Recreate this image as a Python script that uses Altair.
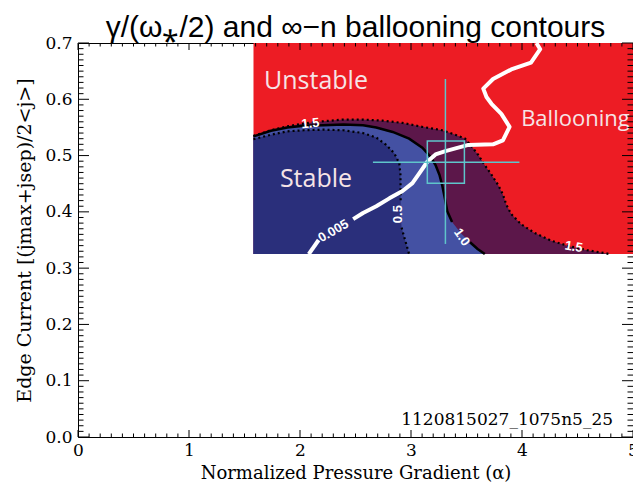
import altair as alt
import pandas as pd

# ---------------- data ----------------
# extent of the computed contour map
region_x = [1.581, 5.0]
region_y = [0.325, 0.7]

# gamma/(w*/2) = 1.5 contour (red / purple boundary)
c15_x = [1.581, 1.738, 1.886, 2.035, 2.212, 2.390, 2.568, 2.746, 2.924, 3.102, 3.280, 3.399,
         3.488, 3.547, 3.606, 3.665, 3.725, 3.784, 3.828, 3.858, 3.903, 3.992, 4.110, 4.259,
         4.407, 4.585, 4.793]
c15_y = [0.535, 0.545, 0.552, 0.557, 0.561, 0.564, 0.564, 0.562, 0.558, 0.551, 0.545, 0.537,
         0.530, 0.516, 0.501, 0.483, 0.466, 0.448, 0.431, 0.413, 0.396, 0.378, 0.363, 0.349,
         0.340, 0.332, 0.325]

# 1.0 contour (purple / light blue boundary, solid)
c10_x = [1.581, 1.738, 1.886, 2.035, 2.212, 2.390, 2.568, 2.687, 2.835, 2.983, 3.102, 3.176,
         3.221, 3.256, 3.280, 3.304, 3.327, 3.370, 3.450, 3.532, 3.600, 3.665]
c10_y = [0.534, 0.544, 0.550, 0.553, 0.554, 0.555, 0.554, 0.550, 0.542, 0.530, 0.514, 0.498,
         0.483, 0.466, 0.448, 0.425, 0.401, 0.382, 0.362, 0.346, 0.334, 0.325]
c10_gap = [18]

# 0.5 contour (light blue / stable boundary, dotted)
c05_x = [1.581, 1.738, 1.886, 2.035, 2.212, 2.390, 2.568, 2.687, 2.776, 2.850, 2.895, 2.905,
         2.906, 2.907, 2.908, 2.915, 2.948, 2.983]
c05_y = [0.529, 0.537, 0.543, 0.545, 0.546, 0.545, 0.540, 0.532, 0.519, 0.504, 0.486, 0.466,
         0.442, 0.419, 0.396, 0.372, 0.349, 0.325]
c05_gap = [14]

# infinite-n ballooning boundary (white)
bal_x = [2.079, 2.168, 2.479, 2.568, 2.687, 2.805, 2.924, 3.013, 3.087, 3.147, 3.221, 3.310,
         3.517, 3.739, 3.828, 3.888, 3.814, 3.725, 3.680, 3.651, 3.739, 3.903, 4.081, 4.164,
         4.130]
bal_y = [0.325, 0.350, 0.387, 0.398, 0.410, 0.424, 0.437, 0.451, 0.472, 0.489, 0.502, 0.508,
         0.519, 0.520, 0.527, 0.551, 0.574, 0.592, 0.604, 0.619, 0.636, 0.653, 0.665, 0.689,
         0.700]
bal_break = 2  # gap for the "0.005" label

# experimental point with error bars
pt_x, pt_y = 3.310, 0.488
pt_xerr = [2.657, 3.977]
pt_yerr = [0.343, 0.636]
box_x = [3.147, 3.481]
box_y = [0.451, 0.526]

# labels
contour_labels = ["1.5", "1.5", "0.005", "0.5", "1.0"]
contour_lx = [2.094, 4.466, 2.301, 2.880, 3.458]
contour_ly = [0.557, 0.338, 0.366, 0.396, 0.355]
contour_angle = [355, 10, 330, 270, 55]

region_labels = ["Unstable", "Stable", "Ballooning"]
region_lx = [2.144, 2.144, 4.481]
region_ly = [0.632, 0.459, 0.565]
region_size = [25, 25, 22]

shot_label = "1120815027_1075n5_25"
shot_x, shot_y = 3.866, 0.031

x_ticks = [0, 1, 2, 3, 4, 5]
y_ticks = [0.0, 0.1, 0.2, 0.3, 0.4, 0.5, 0.6, 0.7]
x_minor = [i / 10 for i in range(51) if i % 10]
y_minor = [i / 100 for i in range(71) if i % 10]

# ---------------- styling ----------------
W, H = 555, 394
RED, PURPLE, LBLUE, NAVY = "#ed1c24", "#5c174a", "#4451a3", "#2a2f7b"
CYAN = "#5fc5cb"
SERIF = "DejaVu Serif"

XS = alt.Scale(domain=[0, 5], nice=False, zero=False)
YS = alt.Scale(domain=[0, 0.7], nice=False, zero=False)
XA = alt.Axis(values=x_ticks, format="d", ticks=False, domain=False, grid=False,
              labelFont=SERIF, labelFontSize=17, labelColor="black", labelPadding=5,
              labelFlush=False, labelOverlap=False,
              title="Normalized Pressure Gradient (α)", titleFont=SERIF, titleFontSize=18,
              titleFontWeight="normal", titleColor="black", titlePadding=6)
YA = alt.Axis(values=y_ticks, format=".1f", ticks=False, domain=False, grid=False,
              labelFont=SERIF, labelFontSize=17, labelColor="black", labelPadding=6,
              labelOverlap=False,
              title="Edge Current [(jmax+jsep)/2<j>]", titleFont=SERIF, titleFontSize=19,
              titleFontWeight="normal", titleColor="black", titlePadding=10)


def X(f):
    return alt.X(f, type="quantitative", scale=XS, axis=XA)


def Y(f):
    return alt.Y(f, type="quantitative", scale=YS, axis=YA)


def area_df(xs, ys):
    return pd.DataFrame({"x": xs, "y": ys, "base": region_y[0]})


def line_df(xs, ys, gaps=(), brk=None):
    rows = []
    seg = 0
    for i, (a, b) in enumerate(zip(xs, ys)):
        if i in gaps:
            seg += 1
            continue
        if brk is not None and i == brk:
            seg += 1
        rows.append({"x": a, "y": b, "o": i, "seg": seg})
    return pd.DataFrame(rows)


layers = []

# background (unstable) region
layers.append(alt.Chart(pd.DataFrame({"x": [region_x[0]], "x2": [region_x[1]],
                                      "y": [region_y[0]], "y2": [region_y[1]]}))
              .mark_rect(color=RED).encode(x=X("x"), x2="x2", y=Y("y"), y2="y2"))

for xs, ys, col in [(c15_x, c15_y, PURPLE), (c10_x, c10_y, LBLUE), (c05_x, c05_y, NAVY)]:
    layers.append(alt.Chart(area_df(xs, ys)).mark_area(color=col, interpolate="linear")
                  .encode(x=X("x"), y=Y("y"), y2="base"))

# contour lines
layers.append(alt.Chart(line_df(c15_x, c15_y))
              .mark_line(color="black", strokeWidth=2.2, strokeDash=[2, 3])
              .encode(x=X("x"), y=Y("y"), order="o:Q", detail="seg:N"))
layers.append(alt.Chart(line_df(c10_x, c10_y, gaps=c10_gap))
              .mark_line(color="black", strokeWidth=2.5)
              .encode(x=X("x"), y=Y("y"), order="o:Q", detail="seg:N"))
layers.append(alt.Chart(line_df(c05_x, c05_y, gaps=c05_gap))
              .mark_line(color="black", strokeWidth=2.2, strokeDash=[2, 3])
              .encode(x=X("x"), y=Y("y"), order="o:Q", detail="seg:N"))

# ballooning boundary
layers.append(alt.Chart(line_df(bal_x, bal_y, brk=bal_break))
              .mark_line(color="white", strokeWidth=4, strokeJoin="round")
              .encode(x=X("x"), y=Y("y"), order="o:Q", detail="seg:N"))

# crosshair
layers.append(alt.Chart(pd.DataFrame({"x": [pt_x], "y": [pt_yerr[0]], "y2": [pt_yerr[1]]}))
              .mark_rule(color=CYAN, strokeWidth=1.5).encode(x=X("x"), y=Y("y"), y2="y2"))
layers.append(alt.Chart(pd.DataFrame({"y": [pt_y], "x": [pt_xerr[0]], "x2": [pt_xerr[1]]}))
              .mark_rule(color=CYAN, strokeWidth=1.5).encode(y=Y("y"), x=X("x"), x2="x2"))
layers.append(alt.Chart(pd.DataFrame({"x": [box_x[0]], "x2": [box_x[1]],
                                      "y": [box_y[0]], "y2": [box_y[1]]}))
              .mark_rect(fillOpacity=0, stroke=CYAN, strokeWidth=1.5)
              .encode(x=X("x"), x2="x2", y=Y("y"), y2="y2"))

# contour labels
for t, lx, ly, ang in zip(contour_labels, contour_lx, contour_ly, contour_angle):
    layers.append(alt.Chart(pd.DataFrame({"x": [lx], "y": [ly], "t": [t]}))
                  .mark_text(color="white", font="Liberation Sans", fontWeight="bold",
                             fontSize=13, angle=ang, align="center", baseline="middle")
                  .encode(x=X("x"), y=Y("y"), text="t:N"))

# region labels
for t, lx, ly, fs in zip(region_labels, region_lx, region_ly, region_size):
    layers.append(alt.Chart(pd.DataFrame({"x": [lx], "y": [ly], "t": [t]}))
                  .mark_text(color="#f6e4e6", font="Open Sans", fontSize=fs,
                             align="center", baseline="middle")
                  .encode(x=X("x"), y=Y("y"), text="t:N"))

layers.append(alt.Chart(pd.DataFrame({"x": [shot_x], "y": [shot_y], "t": [shot_label]}))
              .mark_text(color="black", font=SERIF, fontSize=17, align="center",
                         baseline="middle")
              .encode(x=X("x"), y=Y("y"), text="t:N"))

# inward ticks on all four sides
XL, XM, YL, YM = 7, 3.5, 11, 5.5
for vals, ln in [(x_ticks, XL), (x_minor, XM)]:
    d = pd.DataFrame({"x": vals})
    layers.append(alt.Chart(d).mark_rule(color="black", strokeWidth=1)
                  .encode(x=X("x"), y=alt.value(H), y2=alt.value(H - ln)))
    layers.append(alt.Chart(d).mark_rule(color="black", strokeWidth=1)
                  .encode(x=X("x"), y=alt.value(0), y2=alt.value(ln)))
for vals, ln in [(y_ticks, YL), (y_minor, YM)]:
    d = pd.DataFrame({"y": vals})
    layers.append(alt.Chart(d).mark_rule(color="black", strokeWidth=1)
                  .encode(y=Y("y"), x=alt.value(0), x2=alt.value(ln)))
    layers.append(alt.Chart(d).mark_rule(color="black", strokeWidth=1)
                  .encode(y=Y("y"), x=alt.value(W), x2=alt.value(W - ln)))

chart = (
    alt.layer(*layers)
    .properties(
        width=W, height=H,
        title=alt.TitleParams(text="γ/(ω⁎/2) and ∞−n ballooning contours",
                              font="Liberation Sans", fontSize=30, fontWeight="normal",
                              color="black", anchor="middle", frame="group", offset=1, dy=10),
        padding={"left": 70, "top": 35, "right": 0, "bottom": 50},
        autosize=alt.AutoSizeParams(type="none"),
    )
    .configure_view(stroke="black", strokeWidth=1)
)

chart.save("out.html", embed_options={"renderer": "svg", "actions": False})
